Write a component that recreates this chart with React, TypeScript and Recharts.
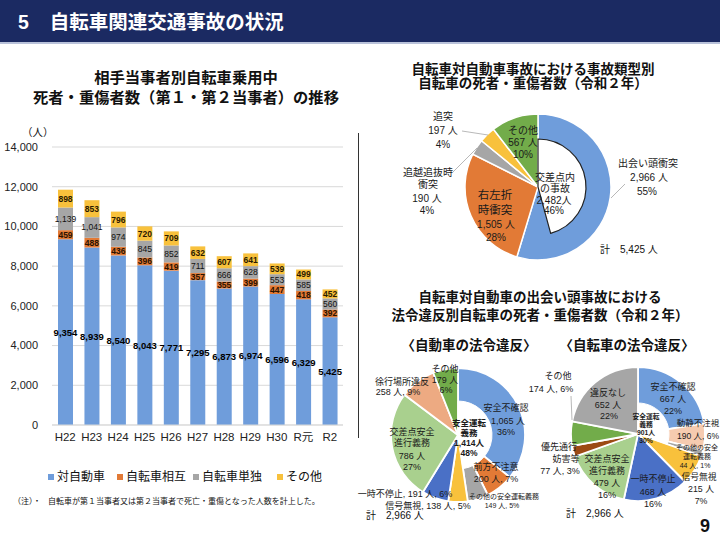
import React from 'react';
import { BarChart, Bar, XAxis, YAxis, CartesianGrid, LabelList, PieChart, Pie, Cell } from 'recharts';

// ---------- data ----------
const years = ['H22', 'H23', 'H24', 'H25', 'H26', 'H27', 'H28', 'H29', 'H30', 'R元', 'R2'];
const vsCar = [9354, 8939, 8540, 8043, 7771, 7295, 6873, 6974, 6596, 6329, 5425];
const bikeMutual = [459, 488, 436, 396, 419, 357, 355, 399, 447, 418, 392];
const bikeSingle = [1139, 1041, 974, 845, 852, 711, 666, 628, 553, 585, 560];
const others = [898, 853, 796, 720, 709, 632, 607, 641, 539, 499, 452];
const yTicks = [0, 2000, 4000, 6000, 8000, 10000, 12000, 14000];
const seriesNames = ['対自動車', '自転車相互', '自転車単独', 'その他'];

const accidentTypes = ['出会い頭衝突', '右左折時衝突', '追越追抜時衝突', '追突', 'その他'];
const accidentValues = [2966, 1505, 190, 197, 567];
const intersectionValues = [2482, 2943]; // 交差点内の事故, それ以外

const carViolations = ['安全不確認', '前方不注意', 'その他の安全運転義務', '信号無視', '一時不停止', '交差点安全進行義務', '徐行場所違反', 'その他'];
const carViolationValues = [1065, 200, 149, 138, 191, 786, 258, 179];
const carSafeDriving = [1414, 1552]; // 安全運転義務, それ以外

const bikeViolations = ['安全不確認', '動静不注視', 'その他の安全運転義務', '信号無視', '一時不停止', '交差点安全進行義務', '優先通行妨害等', 'その他', '違反なし'];
const bikeViolationValues = [667, 190, 44, 215, 468, 479, 77, 174, 652];
const bikeSafeDriving = [901, 2065];

// ---------- styles ----------
const FONT = "'Liberation Sans', 'Noto Sans CJK JP', sans-serif";
const BLUE = '#6F9DDB';
const ORANGE = '#E27A36';
const GRAY = '#A6A6A6';
const YELLOW = '#F8C13C';
const GREEN = '#72AC4A';
const LGREEN = '#A9D08E';
const DBLUE = '#4A70C6';
const PEACH = '#EDAA82';
const LPEACH = '#F6CBB0';
const BROWN = '#9C4A14';

const topColors = [BLUE, ORANGE, GRAY, YELLOW, GREEN];
const carColors = [BLUE, ORANGE, GRAY, YELLOW, DBLUE, LGREEN, PEACH, GREEN];
const bikeColors = [BLUE, LPEACH, GRAY, YELLOW, DBLUE, LGREEN, BROWN, GREEN, GRAY];

const fmt = (v: number) => Number(v).toLocaleString('en-US');
const sum = (a: number[]) => a.reduce((s, x) => s + x, 0);

const barData = years.map((y, i) => ({ year: y, car: vsCar[i], mutual: bikeMutual[i], single: bikeSingle[i], other: others[i] }));
const topData = accidentTypes.map((n, i) => ({ name: n, value: accidentValues[i] }));
const interData = intersectionValues.map((v, i) => ({ name: i === 0 ? '交差点内の事故' : '他', value: v }));
const carData = carViolations.map((n, i) => ({ name: n, value: carViolationValues[i] }));
const carSafeData = carSafeDriving.map((v, i) => ({ name: i === 0 ? '安全運転義務' : '他', value: v }));
const bikeData = bikeViolations.map((n, i) => ({ name: n, value: bikeViolationValues[i] }));
const bikeSafeData = bikeSafeDriving.map((v, i) => ({ name: i === 0 ? '安全運転義務' : '他', value: v }));

// label layouts: [text template, dx, dy, fontSize?, bold?] relative to pie center
type Line = [string, number, number, number?, boolean?];
type LabelSpec = { lines: Line[]; lead?: [number, number][] } | null;

const topLayout: LabelSpec[] = [
  { lines: [['出会い頭衝突', 110, -24], ['{v} 人', 111, -10], ['{p}', 109, 4]], lead: [[87, -3], [73, 11]] },
  { lines: [['右左折', -43, 8, 11.5], ['時衝突', -43, 23, 11.5], ['{v} 人', -42, 37], ['{p}', -42, 50]] },
  { lines: [['追越追抜時', -110, -15], ['衝突', -110, -3], ['{v} 人', -111, 11], ['{p}', -111, 23]], lead: [[-85, -15], [-61, -39]] },
  { lines: [['追突', -95, -71], ['{v} 人', -95, -57], ['{p}', -95, -43]], lead: [[-76, -56], [-50, -52]] },
  { lines: [['その他', -15, -57], ['{v} 人', -15, -45], ['{p}', -15, -33]] },
];
const interLayout: LabelSpec[] = [
  { lines: [['交差点内', 17, -10], ['の事故', 17, 1], ['{v}人', 16, 13], ['{p}', 16, 23]] },
  null,
];
const carLayout: LabelSpec[] = [
  { lines: [['安全不確認', 48, -27], ['{v} 人', 50, -14], ['{p}', 48, -3]] },
  { lines: [['前方不注意', 38, 32], ['{v} 人, {p}', 38, 44]] },
  { lines: [['その他の安全運転義務', 46, 61, 7], ['{v} 人, {p}', 44, 70, 7]] },
  { lines: [['信号無視, {v} 人, {p}', -30, 71]] },
  { lines: [['一時不停止, {v} 人, {p}', -53, 59]] },
  { lines: [['交差点安全', -46, -3], ['進行義務', -46, 8], ['{v} 人', -46, 21], ['{p}', -46, 32]] },
  { lines: [['徐行場所違反', -56, -53], ['{v} 人, {p}', -60, -43]] },
  { lines: [['その他', -13, -66], ['{v} 人', -13, -55], ['{p}', -12, -45]] },
];
const carSafeLayout: LabelSpec[] = [
  { lines: [['安全運転', 11, -12, 8.5, true], ['義務', 11, -2, 8.5, true], ['{v}人', 11, 8, 8.5, true], ['{p}', 11, 18, 8.5, true]] },
  null,
];
const bikeLayout: LabelSpec[] = [
  { lines: [['安全不確認', 35, -47], ['{v} 人', 35, -35], ['{p}', 35, -23]] },
  { lines: [['動静不注視', 60, -11, 8.5], ['{v} 人, {p}', 60, 2, 8.5]] },
  { lines: [['その他の安全', 59, 13, 7], ['運転義務', 59, 22, 7], ['{v} 人, {p}', 57, 31, 7]] },
  { lines: [['信号無視', 61, 43, 8.8], ['{v} 人', 63, 55, 8.8], ['{p}', 63, 67, 8.8]] },
  { lines: [['一時不停止', 15, 45], ['{v} 人', 15, 58], ['{p}', 15, 70]] },
  { lines: [['交差点安全', -31, 25], ['進行義務', -31, 37], ['{v} 人', -31, 49], ['{p}', -31, 61]] },
  { lines: [['優先通行', -79, 13], ['妨害等', -72, 25], ['{v} 人, {p}', -78, 37]] },
  { lines: [['その他', -80, -58], ['{v} 人, {p}', -87, -45]], lead: [[-67, -38], [-66, -14]] },
  { lines: [['違反なし', -30, -41], ['{v} 人', -30, -29], ['{p}', -29, -18]] },
];
const bikeSafeLayout: LabelSpec[] = [
  { lines: [['安全運転', 8, -18, 6.8, true], ['義務', 8, -10, 6.8, true], ['{v}人', 8, -2, 6.8, true], ['{p}', 8, 6, 6.8, true]] },
  null,
];

function makeLabel(layout: LabelSpec[], values: number[], total: number, baseSize: number, fx: number, fy: number) {
  return (props: any) => {
    const idx = props.index;
    const spec = layout[idx];
    if (!spec) return null;
    const cx = typeof props.cx === 'number' ? props.cx : fx;
    const cy = typeof props.cy === 'number' ? props.cy : fy;
    const v = values[idx];
    const p = Math.round((v / total) * 100) + '%';
    return (
      <g key={'lbl' + idx}>
        {spec.lead && (
          <polyline
            points={spec.lead.map(([dx, dy]) => `${cx + dx},${cy + dy}`).join(' ')}
            fill="none"
            stroke="#A6A6A6"
            strokeWidth={0.8}
          />
        )}
        {spec.lines.map(([t, dx, dy, fs, bold], i) => (
          <text
            key={i}
            x={cx + dx}
            y={cy + dy}
            textAnchor="middle"
            dominantBaseline="central"
            fontSize={fs || baseSize}
            fontWeight={bold ? 'bold' : 'normal'}
            fontFamily={FONT}
            fill="#1a1a1a"
          >
            {t.replace('{v}', fmt(v)).replace('{p}', p)}
          </text>
        ))}
      </g>
    );
  };
}

const abs = (left: number, top: number, extra: React.CSSProperties = {}): React.CSSProperties => ({
  position: 'absolute',
  left,
  top,
  ...extra,
});

const legendColors = [BLUE, ORANGE, GRAY, YELLOW];
const legendX = [48, 117, 193, 277];

export default function App() {
  const TOPX = 193, TOPY = 132;
  const CLX = 113, CLY = 380;
  const CRX = 293, CRY = 379;
  const topTotal = sum(accidentValues);
  const carTotal = sum(carViolationValues);
  const bikeTotal = sum(bikeViolationValues);

  return (
    <div style={{ position: 'absolute', left: 0, top: 0, width: 720, height: 540, background: '#fff', fontFamily: FONT, color: '#111', overflow: 'hidden' }}>
      {/* header */}
      <div style={abs(0, 0, { width: 720, height: 42, background: '#1B2A62' })} />
      <div style={abs(0, 42, { width: 720, height: 2, background: '#B9C2DA' })} />
      <div style={abs(18, 9, { color: '#fff', fontSize: 19.5, fontWeight: 'bold', lineHeight: '26px', whiteSpace: 'nowrap' })}>
        5<span style={{ display: 'inline-block', width: 21 }} />自転車関連交通事故の状況
      </div>

      {/* left title */}
      <div style={abs(0, 68, { width: 372, textAlign: 'center', fontSize: 15.3, fontWeight: 'bold', lineHeight: '20px' })}>
        相手当事者別自転車乗用中
        <br />
        死者・重傷者数（第１・第２当事者）の推移
      </div>
      <div style={abs(22, 125, { fontSize: 10.5, lineHeight: '14px' })}>（人）</div>

      {/* bar chart */}
      <div style={abs(0, 120)}>
        <BarChart width={360} height={340} data={barData} margin={{ top: 27, right: 17, left: 0, bottom: 0 }} barSize={15}>
          <CartesianGrid vertical={false} stroke="#D9D9D9" />
          <XAxis dataKey="year" height={35} interval={0} axisLine={{ stroke: '#D9D9D9' }} tickLine={false} tick={{ fontSize: 11.5, fill: '#222', fontFamily: FONT }} />
          <YAxis width={52} domain={[0, 14000]} ticks={yTicks} axisLine={false} tickLine={false} tickMargin={8} tickFormatter={fmt} tick={{ fontSize: 11, fill: '#222', fontFamily: FONT }} />
          <Bar dataKey="car" name={seriesNames[0]} stackId="a" fill={BLUE} isAnimationActive={false}>
            <LabelList dataKey="car" position="center" formatter={(v: any) => fmt(v)} fill="#000" fontSize={9.5} fontWeight="bold" fontFamily={FONT} />
          </Bar>
          <Bar dataKey="mutual" name={seriesNames[1]} stackId="a" fill={ORANGE} isAnimationActive={false}>
            <LabelList dataKey="mutual" position="center" formatter={(v: any) => fmt(v)} fill="#2a1200" fontSize={8.5} fontWeight="bold" fontFamily={FONT} />
          </Bar>
          <Bar dataKey="single" name={seriesNames[2]} stackId="a" fill={GRAY} isAnimationActive={false}>
            <LabelList dataKey="single" position="center" formatter={(v: any) => fmt(v)} fill="#111" fontSize={8.5} fontFamily={FONT} />
          </Bar>
          <Bar dataKey="other" name={seriesNames[3]} stackId="a" fill={YELLOW} isAnimationActive={false}>
            <LabelList dataKey="other" position="center" formatter={(v: any) => fmt(v)} fill="#2a1a00" fontSize={8.5} fontWeight="bold" fontFamily={FONT} />
          </Bar>
        </BarChart>
      </div>

      {/* legend */}
      {seriesNames.map((n, i) => (
        <div key={n} style={abs(legendX[i], 469, { display: 'flex', alignItems: 'center', whiteSpace: 'nowrap', fontSize: 12, lineHeight: '16px' })}>
          <span style={{ display: 'inline-block', width: 6, height: 6, background: legendColors[i], marginRight: 3 }} />
          {n}
        </div>
      ))}
      <div style={abs(13, 496, { fontSize: 8, lineHeight: '12px', whiteSpace: 'nowrap' })}>
        （注）・<span style={{ display: 'inline-block', width: 7 }} />自転車が第１当事者又は第２当事者で死亡・重傷となった人数を計上した。
      </div>

      {/* separator */}
      <div style={abs(358, 133, { width: 1, height: 305, background: '#333' })} />

      {/* right titles */}
      <div style={abs(353, 63, { width: 360, textAlign: 'center', fontSize: 13.5, fontWeight: 'bold', lineHeight: '14px' })}>
        自転車対自動車事故における事故類型別
        <br />
        自転車の死者・重傷者数（令和２年）
      </div>
      <div style={abs(360, 289, { width: 360, textAlign: 'center', fontSize: 13.5, fontWeight: 'bold', lineHeight: '18px' })}>
        自転車対自動車の出会い頭事故における
        <br />
        法令違反別自転車の死者・重傷者数（令和２年）
      </div>
      <div style={abs(369, 337, { width: 200, textAlign: 'center', fontSize: 13.5, fontWeight: 'bold', lineHeight: '18px' })}>〈自動車の法令違反〉</div>
      <div style={abs(527, 337, { width: 200, textAlign: 'center', fontSize: 13.5, fontWeight: 'bold', lineHeight: '18px' })}>〈自転車の法令違反〉</div>

      {/* pies */}
      <div style={abs(340, 50)}>
        <PieChart width={380} height={490}>
          <Pie data={topData} dataKey="value" cx={TOPX} cy={TOPY} outerRadius={73} startAngle={90} endAngle={-270}
            stroke="#fff" strokeWidth={1.5} isAnimationActive={false} labelLine={false}
            label={makeLabel(topLayout, accidentValues, topTotal, 10, TOPX, TOPY)}>
            {topData.map((d, i) => <Cell key={d.name} fill={topColors[i]} />)}
          </Pie>
          <Pie data={interData} dataKey="value" cx={TOPX} cy={TOPY} outerRadius={48} startAngle={90} endAngle={-270}
            isAnimationActive={false} labelLine={false}
            label={makeLabel(interLayout, intersectionValues, topTotal, 10, TOPX, TOPY)}>
            <Cell fill="#fff" stroke="#222" strokeWidth={1.2} />
            <Cell fill="none" stroke="none" />
          </Pie>

          <Pie data={carData} dataKey="value" cx={CLX} cy={CLY} outerRadius={67} startAngle={90} endAngle={-270}
            stroke="#fff" strokeWidth={1.8} isAnimationActive={false} labelLine={false}
            label={makeLabel(carLayout, carViolationValues, carTotal, 9, CLX, CLY)}>
            {carData.map((d, i) => <Cell key={d.name + i} fill={carColors[i]} />)}
          </Pie>
          <Pie data={carSafeData} dataKey="value" cx={CLX} cy={CLY} outerRadius={34} startAngle={90} endAngle={-270}
            isAnimationActive={false} labelLine={false}
            label={makeLabel(carSafeLayout, carSafeDriving, carTotal, 8.5, CLX, CLY)}>
            <Cell fill="#fff" stroke="#fff" strokeWidth={1} />
            <Cell fill="none" stroke="none" />
          </Pie>

          <Pie data={bikeData} dataKey="value" cx={CRX} cy={CRY} outerRadius={67} startAngle={90} endAngle={-270}
            stroke="#fff" strokeWidth={1.8} isAnimationActive={false} labelLine={false}
            label={makeLabel(bikeLayout, bikeViolationValues, bikeTotal, 9, CRX, CRY)}>
            {bikeData.map((d, i) => <Cell key={d.name + i} fill={bikeColors[i]} />)}
          </Pie>
          <Pie data={bikeSafeData} dataKey="value" cx={CRX} cy={CRY} outerRadius={31} startAngle={90} endAngle={-270}
            isAnimationActive={false} labelLine={false}
            label={makeLabel(bikeSafeLayout, bikeSafeDriving, bikeTotal, 7, CRX, CRY)}>
            <Cell fill="#fff" stroke="#fff" strokeWidth={1} />
            <Cell fill="none" stroke="none" />
          </Pie>
        </PieChart>
      </div>

      {/* totals */}
      <div style={abs(600, 243, { fontSize: 10, lineHeight: '14px', whiteSpace: 'nowrap' })}>計　{fmt(topTotal)} 人</div>
      <div style={abs(366, 509, { fontSize: 10, lineHeight: '14px', whiteSpace: 'nowrap' })}>計　{fmt(carTotal)} 人</div>
      <div style={abs(566, 507, { fontSize: 10, lineHeight: '14px', whiteSpace: 'nowrap' })}>計　{fmt(bikeTotal)} 人</div>

      <div style={abs(700, 515, { fontSize: 18, fontWeight: 'bold', lineHeight: '22px' })}>9</div>
    </div>
  );
}
